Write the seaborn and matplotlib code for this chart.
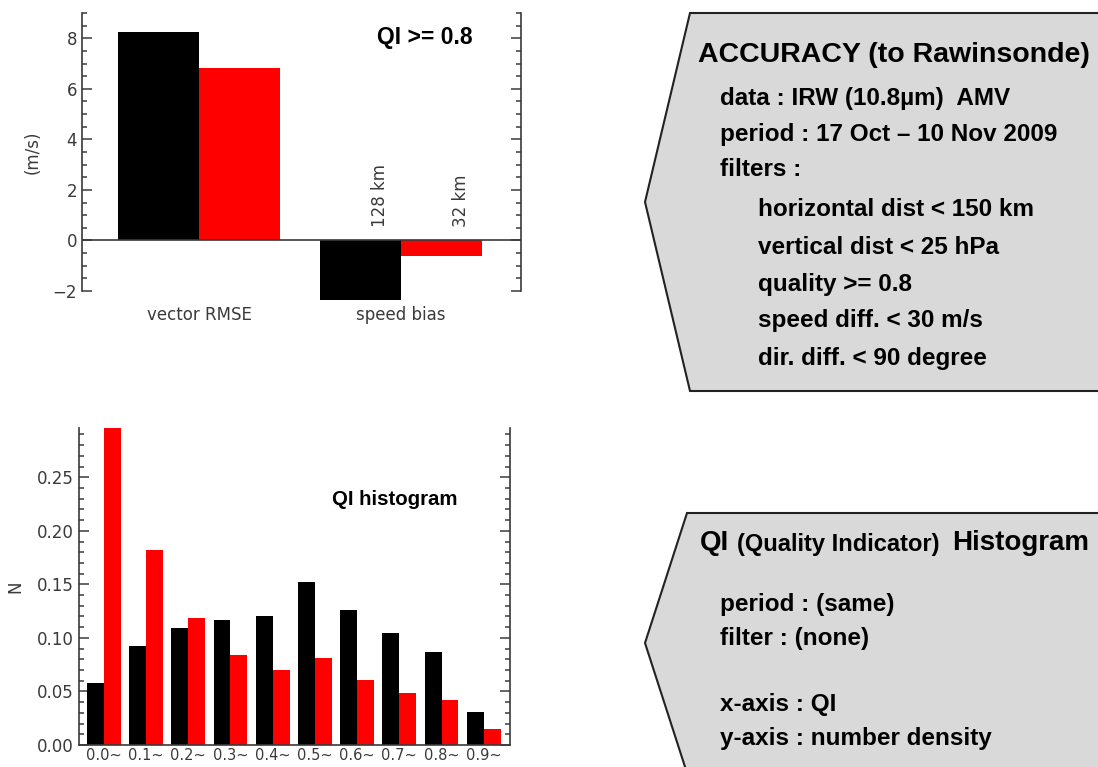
import numpy as np
import pandas as pd
import seaborn as sns
import matplotlib.pyplot as plt
from matplotlib.patches import Polygon
from matplotlib.ticker import MultipleLocator, FormatStrFormatter

# data
metrics = ['vector RMSE', 'speed bias']
series = ['128 km', '32 km']
acc_128 = [8.25, -2.34]
acc_32 = [6.83, -0.62]

qi_bins = ['0.0~', '0.1~', '0.2~', '0.3~', '0.4~', '0.5~', '0.6~', '0.7~', '0.8~', '0.9~']
hist_black = [0.058, 0.092, 0.109, 0.117, 0.120, 0.152, 0.126, 0.105, 0.087, 0.031]
hist_red = [0.300, 0.182, 0.119, 0.084, 0.070, 0.081, 0.061, 0.049, 0.042, 0.015]

acc_lines = ['data : IRW (10.8µm)  AMV', 'period : 17 Oct \u2013 10 Nov 2009', 'filters :']
filter_lines = ['horizontal dist < 150 km', 'vertical dist < 25 hPa', 'quality >= 0.8',
                'speed diff. < 30 m/s', 'dir. diff. < 90 degree']
qi_lines = ['period : (same)', 'filter : (none)', '', 'x-axis : QI', 'y-axis : number density']

df1 = pd.DataFrame({'metric': metrics * 2, 'value': acc_128 + acc_32,
                    'series': [series[0]] * 2 + [series[1]] * 2})
df2 = pd.DataFrame({'bin': qi_bins * 2, 'value': hist_black + hist_red,
                    'series': ['a'] * 10 + ['b'] * 10})

sns.set_style('ticks')
plt.rcParams['font.family'] = ['DejaVu Sans']
ink = '#3a3a3a'
bold = dict(family='Liberation Sans', fontweight='bold', color='black')

fig = plt.figure(figsize=(10.98, 7.67), dpi=100)

def style_axis(ax, major, minor):
    ax.yaxis.set_major_locator(MultipleLocator(major))
    ax.yaxis.set_minor_locator(MultipleLocator(minor))
    ax.tick_params(axis='y', which='both', direction='in', left=True, right=True,
                   labelright=False, color=ink, labelcolor=ink, labelsize=12, width=1.1)
    ax.tick_params(axis='y', which='major', length=7)
    ax.tick_params(axis='y', which='minor', length=3.6)
    ax.tick_params(axis='x', length=0, labelcolor=ink, labelsize=12)
    for s in ['left', 'right', 'bottom']:
        ax.spines[s].set_color(ink)
        ax.spines[s].set_linewidth(1.2)
    ax.spines['top'].set_visible(False)
    ax.set_xlabel('')

# top: accuracy
ax1 = fig.add_axes([0.0747, 0.6206, 0.3998, 0.3625])
sns.barplot(data=df1, x='metric', y='value', hue='series', palette=['black', 'red'],
            saturation=1, width=0.8, linewidth=0, legend=False, ax=ax1)
for p in ax1.patches:
    p.set_clip_on(False)
ax1.set_xlim(-0.579, 1.594)
ax1.set_ylim(-2, 9)
style_axis(ax1, 2, 0.5)
ax1.spines['bottom'].set_visible(False)
ax1.axhline(0, color=ink, lw=1.2)
ax1.tick_params(axis='x', pad=11)
ax1.set_ylabel('(m/s)', color=ink, fontsize=12, labelpad=8)
ax1.text(0.78, 0.91, 'QI >= 0.8', transform=ax1.transAxes, ha='center', va='center',
         fontsize=16.5, **bold)
for k, lab in enumerate(series):
    bar = ax1.containers[k][1]
    ax1.text(bar.get_x() + bar.get_width() / 2 + 0.095, 0.55, lab, rotation=90,
             ha='center', va='bottom', color=ink, fontsize=12)

# bottom: QI histogram
ax2 = fig.add_axes([0.0719, 0.0287, 0.3925, 0.4133])
sns.barplot(data=df2, x='bin', y='value', hue='series', palette=['black', 'red'],
            saturation=1, width=0.8, linewidth=0, legend=False, ax=ax2)
ax2.set_xlim(-0.59, 9.62)
ax2.set_ylim(0, 0.296)
style_axis(ax2, 0.05, 0.01)
ax2.yaxis.set_major_formatter(FormatStrFormatter('%.2f'))
ax2.tick_params(axis='x', pad=2, labelsize=10.5)
ax2.set_ylabel('N', color=ink, fontsize=12, labelpad=9)
ax2.text(0.733, 0.773, 'QI histogram', transform=ax2.transAxes, ha='center', va='center',
         fontsize=14.7, **bold)

# right side description boxes (pixel coordinates)
bg = fig.add_axes([0, 0, 1, 1], zorder=-1)
bg.set_xlim(0, 1098)
bg.set_ylim(767, 0)
bg.axis('off')
box_kw = dict(closed=True, facecolor='#d9d9d9', edgecolor='#222222', lw=1.5)
bg.add_patch(Polygon([(1110, 13), (690, 13), (645, 202), (690, 391), (1110, 391)], **box_kw))
bg.add_patch(Polygon([(1110, 513), (687, 513), (645, 643), (687, 773), (1110, 773)], **box_kw))

bg.text(698, 55, 'ACCURACY (to Rawinsonde)', va='center', fontsize=20.5, **bold)
for i, t in enumerate(acc_lines):
    bg.text(720, 98 + i * 36, t, va='center', fontsize=17.5, **bold)
for i, t in enumerate(filter_lines):
    bg.text(758, 210 + i * 37, t, va='center', fontsize=17.5, **bold)

bg.text(700, 543, 'QI', va='center', fontsize=20, **bold)
bg.text(737, 545, '(Quality Indicator)', va='center', fontsize=17, **bold)
bg.text(952, 543, 'Histogram', va='center', fontsize=20, **bold)
for i, t in enumerate(qi_lines):
    if t:
        bg.text(720, 605 + i * 33.3, t, va='center', fontsize=17.5, **bold)

plt.savefig('out.png', dpi=100)
